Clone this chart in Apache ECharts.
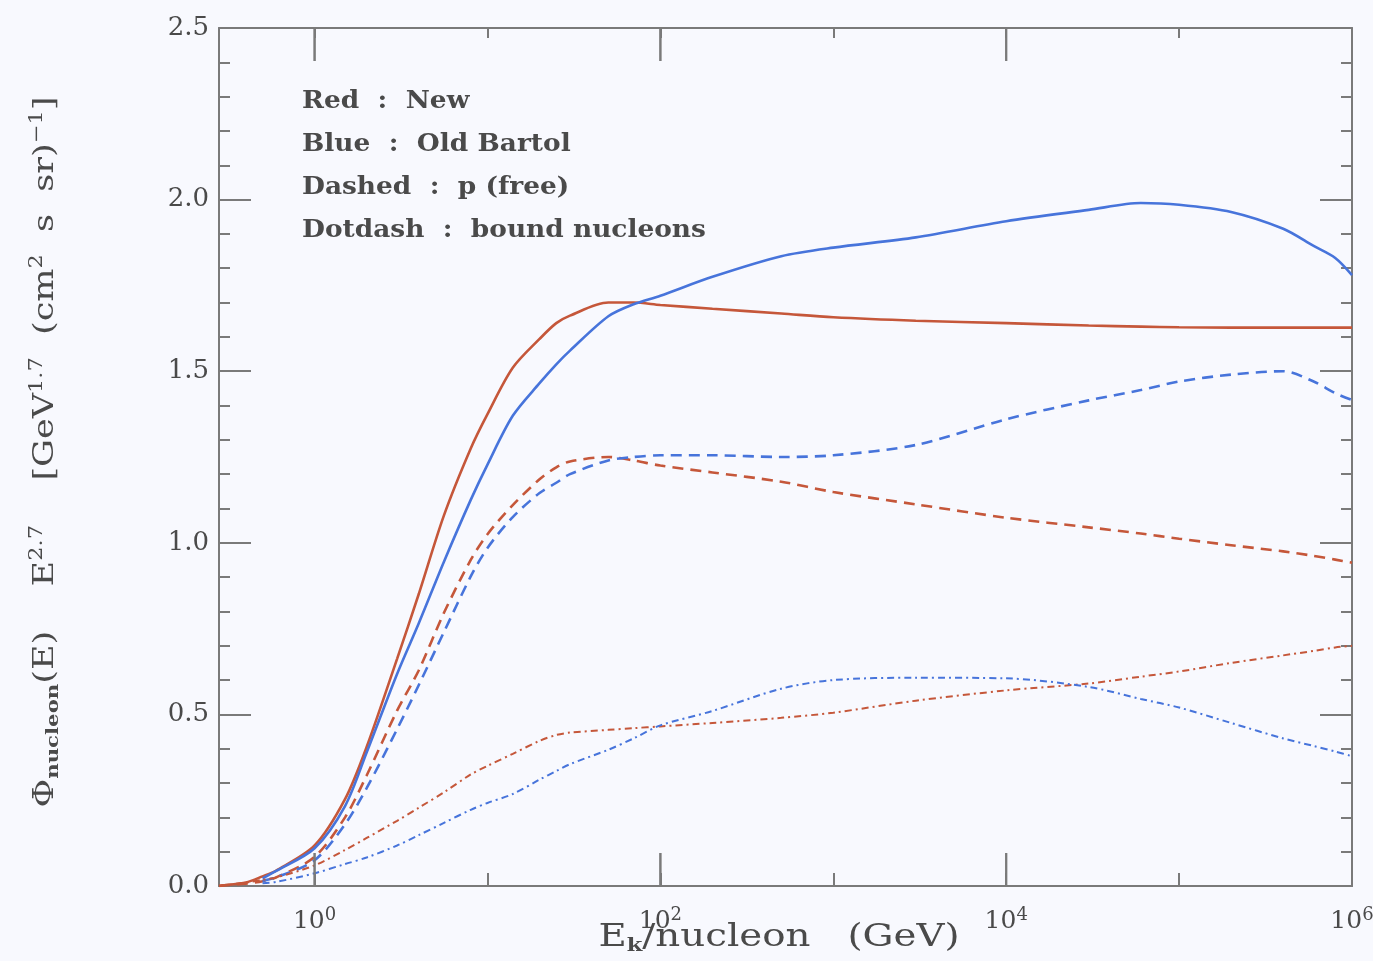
<!DOCTYPE html>
<html>
<head>
<meta charset="utf-8">
<title>All-nucleon flux</title>
<script src="https://cdn.jsdelivr.net/npm/echarts@6/dist/echarts.min.js"></script>
<style>
  html, body { margin: 0; padding: 0; background: #f8f9fe; }
  #chart { width: 1373px; height: 961px; }
</style>
</head>
<body>
<div id="chart"></div>
<script>
// Kinetic energy per nucleon (GeV)
const energyGeV = [0.28, 0.3, 0.4, 0.5, 0.6, 1, 1.5, 2, 3, 4, 5.6, 8, 10, 14, 20, 25, 30, 50, 70, 100,
  200, 500, 1000, 3000, 1e4, 3e4, 6e4, 1e5, 2e5, 4e5, 6e5, 8e5, 1e6];

// Phi_nucleon(E) * E^2.7 for each model / component
const newTotal = [0.0, 0.002, 0.01, 0.028, 0.045, 0.118, 0.253, 0.405, 0.662, 0.85, 1.08, 1.275, 1.375, 1.51, 1.594, 1.64, 1.662,
  1.70, 1.70, 1.693, 1.682, 1.668, 1.657, 1.647, 1.64, 1.633, 1.63, 1.628, 1.627, 1.627, 1.627, 1.627, 1.627];
const oldTotal = [null, null, null, 0.022, 0.044, 0.11, 0.233, 0.389, 0.618, 0.765, 0.945, 1.125, 1.228, 1.37, 1.465, 1.52, 1.56,
  1.66, 1.695, 1.72, 1.775, 1.835, 1.86, 1.89, 1.937, 1.97, 1.99, 1.985, 1.964, 1.915, 1.865, 1.83, 1.78];
const newProton = [0.0, 0.002, 0.007, 0.014, 0.025, 0.085, 0.2, 0.322, 0.511, 0.628, 0.796, 0.95, 1.025, 1.11, 1.185, 1.22, 1.237,
  1.25, 1.24, 1.225, 1.205, 1.178, 1.148, 1.112, 1.073, 1.045, 1.027, 1.012, 0.993, 0.975, 0.962, 0.951, 0.942];
const oldProton = [null, null, null, 0.015, 0.025, 0.075, 0.18, 0.285, 0.457, 0.585, 0.74, 0.902, 0.985, 1.075, 1.145, 1.175, 1.2,
  1.24, 1.25, 1.255, 1.255, 1.25, 1.255, 1.285, 1.36, 1.415, 1.445, 1.47, 1.49, 1.5, 1.47, 1.436, 1.416];
const newBound = [0.0, 0.002, 0.01, 0.018, 0.025, 0.06, 0.105, 0.14, 0.19, 0.228, 0.273, 0.325, 0.35, 0.385, 0.423, 0.44, 0.447,
  0.455, 0.46, 0.465, 0.475, 0.49, 0.505, 0.54, 0.57, 0.59, 0.61, 0.625, 0.65, 0.672, 0.685, 0.695, 0.70];
const oldBound = [null, null, null, 0.008, 0.012, 0.037, 0.064, 0.083, 0.118, 0.148, 0.184, 0.222, 0.242, 0.268, 0.31, 0.335, 0.355,
  0.397, 0.43, 0.468, 0.51, 0.575, 0.60, 0.607, 0.605, 0.58, 0.545, 0.52, 0.475, 0.43, 0.408, 0.392, 0.378];

// Decades with long tick marks (GeV) and decade exponents carrying a "10^n" label
const longTickEnergies = [1, 100, 1e4];
const labelDecades = [0, 2, 4, 6];
const legendLines = ['Red  :  New', 'Blue  :  Old Bartol', 'Dashed  :  p (free)', 'Dotdash  :  bound nucleons'];

const xMin = 0.28, xMax = 1e6, yMin = 0, yMax = 2.5;
const RED = '#c5573a', BLUE = '#4774db';
const INK = '#4a4a4a', FRAME = '#7a7a7a';
const SERIF = '"DejaVu Serif", "Liberation Serif", serif';
const LONG_TICK = 33;

function pairs(vals) {
  const out = [];
  vals.forEach((v, i) => { if (v !== null) out.push([energyGeV[i], v]); });
  return out;
}

const expMin = Math.log10(xMin), expMax = Math.log10(xMax);
const frameLine = { show: true, onZero: false, lineStyle: { color: FRAME, width: 2 } };

// Axis in decade-exponent units: short ticks at every decade (and the 10^n labels)
function decadeAxis(position, len, opts) {
  return Object.assign({
    type: 'value', position: position, min: expMin, max: expMax, splitNumber: 5,
    axisLine: frameLine,
    splitLine: { show: false },
    axisTick: { show: true, inside: true, length: len, lineStyle: { color: FRAME, width: 2 } },
    axisLabel: { show: false }
  }, opts || {});
}

function valueAxis(position, withLabels) {
  return {
    type: 'value', position: position, min: yMin, max: yMax, interval: 0.5,
    axisLine: frameLine,
    axisTick: { show: true, inside: true, length: 32, lineStyle: { color: FRAME, width: 2 } },
    minorTick: { show: true, splitNumber: 5, length: 11, lineStyle: { color: FRAME, width: 2 } },
    splitLine: { show: false },
    axisLabel: withLabels
      ? { show: true, margin: 10, fontFamily: SERIF, fontSize: 26, color: INK, formatter: v => v.toFixed(1) }
      : { show: false }
  };
}

const tickStyle = { stroke: FRAME, lineWidth: 2, fill: null };

// Long tick marks on the bottom and top frame at every other decade
function renderLongTicks(params, api) {
  const e = api.value(0);
  const pb = api.coord([e, yMin]);
  const pt = api.coord([e, yMax]);
  return {
    type: 'group',
    children: [
      { type: 'line', shape: { x1: pb[0], y1: pb[1], x2: pb[0], y2: pb[1] - LONG_TICK }, style: tickStyle },
      { type: 'line', shape: { x1: pt[0], y1: pt[1], x2: pt[0], y2: pt[1] + LONG_TICK }, style: tickStyle }
    ]
  };
}

const chart = echarts.init(document.getElementById('chart'), null, { renderer: 'canvas' });

const lineSeries = [
  { name: 'New total', data: pairs(newTotal), color: RED, lineStyle: { width: 2.6, type: 'solid' } },
  { name: 'Old Bartol total', data: pairs(oldTotal), color: BLUE, lineStyle: { width: 2.6, type: 'solid' } },
  { name: 'New p (free)', data: pairs(newProton), color: RED, lineStyle: { width: 2.6, type: [11, 7] } },
  { name: 'Old Bartol p (free)', data: pairs(oldProton), color: BLUE, lineStyle: { width: 2.6, type: [11, 7] } },
  { name: 'New bound nucleons', data: pairs(newBound), color: RED, lineStyle: { width: 2, type: [7, 4, 2, 4] } },
  { name: 'Old Bartol bound nucleons', data: pairs(oldBound), color: BLUE, lineStyle: { width: 2, type: [7, 4, 2, 4] } }
].map(s => Object.assign({
  type: 'line', xAxisIndex: 0, yAxisIndex: 0, showSymbol: false, symbol: 'none',
  smooth: 0.3, clip: true
}, s));

const textGraphics = [
  {
    // model / line-style key
    id: 'key', type: 'text', x: 302, y: 80, scaleX: 1.1,
    style: {
      text: legendLines.join('\n'),
      font: 'bold 24px ' + SERIF, lineHeight: 43, fill: INK
    }
  },
  {
    // horizontal axis title
    id: 'xTitle', type: 'text', x: 779, y: 938, scaleX: 1.25,
    style: {
      text: '{n|E}{k|k}{n|/nucleon   (GeV)}',
      textAlign: 'center', verticalAlign: 'middle',
      rich: {
        n: { fontFamily: SERIF, fontSize: 31, fill: INK },
        k: { fontFamily: SERIF, fontSize: 18, fontWeight: 'bold', fill: INK, padding: [16, 0, 0, 0] }
      }
    }
  },
  {
    // vertical axis title
    id: 'yTitle', type: 'text', x: 46, y: 452, rotation: Math.PI / 2, scaleX: 1.25,
    style: {
      text: '{n|Φ}{sb|nucleon}{n|(E)    E}{sp|2.7}{n|    [GeV}{sp|1.7}{n|  (cm}{sp|2}{n|  s  sr)}{sp|−1}{n|]}',
      textAlign: 'center', verticalAlign: 'middle',
      rich: {
        n: { fontFamily: SERIF, fontSize: 28, fill: INK },
        sb: { fontFamily: SERIF, fontSize: 17, fontWeight: 'bold', fill: INK, padding: [16, 0, 0, 0] },
        sp: { fontFamily: SERIF, fontSize: 18, fill: INK, padding: [0, 0, 18, 0] }
      }
    }
  }
];

const option = {
  backgroundColor: '#f8f9fe',
  animation: false,
  grid: { left: 219, right: 21, top: 28, bottom: 75, containLabel: false, outerBoundsMode: 'none' },
  xAxis: [
    {
      type: 'log', position: 'bottom', min: xMin, max: xMax, logBase: 10,
      axisLine: frameLine,
      axisTick: { show: false }, minorTick: { show: false },
      axisLabel: { show: false }, splitLine: { show: false }
    },
    decadeAxis('bottom', 13, {
      axisLabel: {
        show: true, customValues: labelDecades, margin: 20,
        formatter: v => '{b|10}{s|' + Math.round(v) + '}',
        rich: {
          b: { fontFamily: SERIF, fontSize: 25, color: INK },
          s: { fontFamily: SERIF, fontSize: 18, color: INK, padding: [0, 0, 13, 0] }
        }
      }
    }),
    decadeAxis('top', 10)
  ],
  yAxis: [valueAxis('left', true), valueAxis('right', false)],
  graphic: textGraphics,
  series: lineSeries.concat([
    {
      name: 'decade ticks', type: 'custom', coordinateSystem: 'cartesian2d', xAxisIndex: 0, yAxisIndex: 0,
      data: longTickEnergies.map(e => [e, yMin]), encode: { x: 0, y: 1 },
      renderItem: renderLongTicks, silent: true, clip: false, z: 5
    }
  ])
};

chart.setOption(option);

// Long decade ticks placed through the chart's own coordinate conversion
const tickGraphics = [];
longTickEnergies.forEach((e, i) => {
  const pb = chart.convertToPixel({ xAxisIndex: 0, yAxisIndex: 0 }, [e, yMin]);
  const pt = chart.convertToPixel({ xAxisIndex: 0, yAxisIndex: 0 }, [e, yMax]);
  if (!pb || !pt) return;
  tickGraphics.push(
    { id: 'tickB' + i, type: 'line', z: 10, shape: { x1: pb[0], y1: pb[1], x2: pb[0], y2: pb[1] - LONG_TICK }, style: tickStyle },
    { id: 'tickT' + i, type: 'line', z: 10, shape: { x1: pt[0], y1: pt[1], x2: pt[0], y2: pt[1] + LONG_TICK }, style: tickStyle }
  );
});
chart.setOption({ graphic: textGraphics.concat(tickGraphics) });
</script>
</body>
</html>
